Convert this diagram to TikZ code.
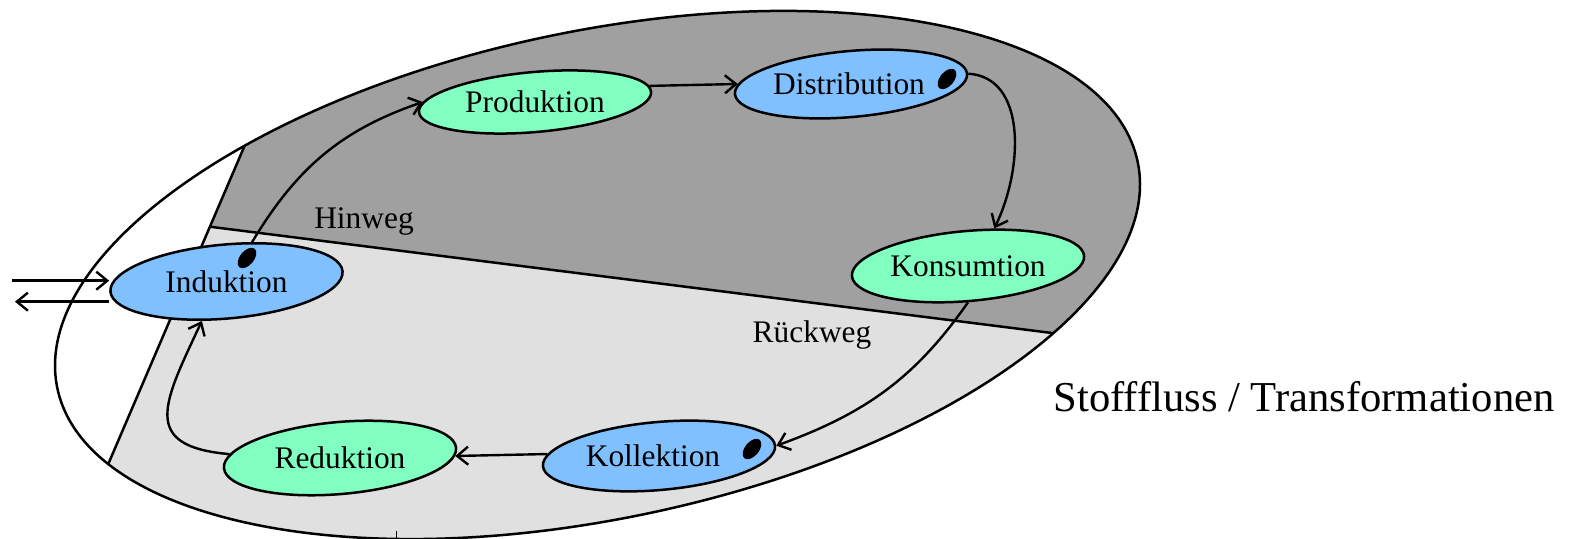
\documentclass[tikz,border=0pt]{standalone}
\usepackage{fontspec}
\setmainfont{Liberation Serif}
\usetikzlibrary{shapes.geometric,arrows.meta}
\definecolor{darkzone}{HTML}{A0A0A0}
\definecolor{lightzone}{HTML}{E0E0E0}
\definecolor{stagefill}{HTML}{80FFC0}
\definecolor{hubfill}{HTML}{80C0FF}
\begin{document}
\begin{tikzpicture}[x=0.5pt,y=0.5pt,
  every node/.style={font=\fontsize{15.7}{18}\selectfont},
  proc/.style={ellipse, draw, line width=1.25pt, minimum width=116.5pt, inner sep=0pt, rotate=5},
  stage/.style={proc, fill=stagefill},
  hub/.style={proc, fill=hubfill},
  flow/.style={-{Straight Barb[length=5.5pt,width=9pt,line width=1.2pt]}, line width=1.2pt},
  border/.style={line width=1.25pt},
  bigtext/.style={font=\fontsize{21.3}{25}\selectfont}
]
\useasboundingbox (0,0) rectangle (1577,539);

% zones inside the tilted cycle ellipse
\begin{scope}
  \clip[rotate around={11.84:(597.5,264)}] (597.5,264) ellipse [x radius=551.9, y radius=243.7];
  \fill[lightzone] (328.5,589) -- (1700,589) -- (1700,-61) -- (50,-61) -- cycle;
  \fill[darkzone] (328.5,589) -- (1700,589) -- (1700,124.2) -- (210.5,312.2) -- cycle;
  \draw[border] (328.5,589) -- (50,-61);
  \draw[border] (210.5,312.2) -- (1700,124.2);
\end{scope}
\draw[border, rotate around={11.84:(597.5,264)}] (597.5,264) ellipse [x radius=551.9, y radius=243.7];
\draw[line width=0.5pt] (396,0) -- (396,8);

% stages
\node[hub, minimum height=37pt] (ind) at (226.5,257.5) {};
\node[stage, minimum height=30pt] (prod) at (535,437) {};
\node[hub, minimum height=33pt] (dist) at (851,455) {};
\node[stage, minimum height=35pt] (kons) at (968,273) {};
\node[hub, minimum height=34pt] (koll) at (659,83) {};
\node[stage, minimum height=36pt] (red) at (340,81) {};

\node (indt) at (ind.center) {Induktion};
\node (prodt) at (prod.center) {Produktion};
\node (distt) at ([xshift=-1pt]dist.center) {Distribution};
\node (konst) at (kons.center) {Konsumtion};
\node (kollt) at ([xshift=-3pt]koll.center) {Kollektion};
\node (redt) at (red.center) {Reduktion};

% markers
\fill[rotate around={50:(247,281)}] (247,281) ellipse [x radius=12, y radius=7];
\fill[rotate around={50:(947,460)}] (947,460) ellipse [x radius=12, y radius=7];
\fill[rotate around={50:(752,90)}] (752,90) ellipse [x radius=12, y radius=7];

% flows
\draw[flow] (ind.52) to[out=59, in=199] (prod.175);
\draw[flow] (prod.3) -- (dist.175);
\draw[flow] (dist.east) .. controls (1026,462) and (1024,372) .. (kons.50);
\draw[flow] (kons.265) to[out=235, in=20] (koll.east);
\draw[flow] (koll.174) -- (red.356);
\draw[flow] (red.173) to[out=175, in=245, looseness=1.7] (ind.233);

\coordinate (srcin) at (12,258.3);
\coordinate (dstout) at (15,237.3);
\draw[flow] (srcin) -- (ind.west |- srcin);
\draw[flow] (ind.west |- dstout) -- (dstout);

% labels
\node[anchor=base] (hin) at (364,310) {Hinweg};
\node[anchor=base] (rueck) at (812,196) {Rückweg};
\node[anchor=base, bigtext] (title) at (1304,127) {Stofffluss / Transformationen};
\end{tikzpicture}
\end{document}
